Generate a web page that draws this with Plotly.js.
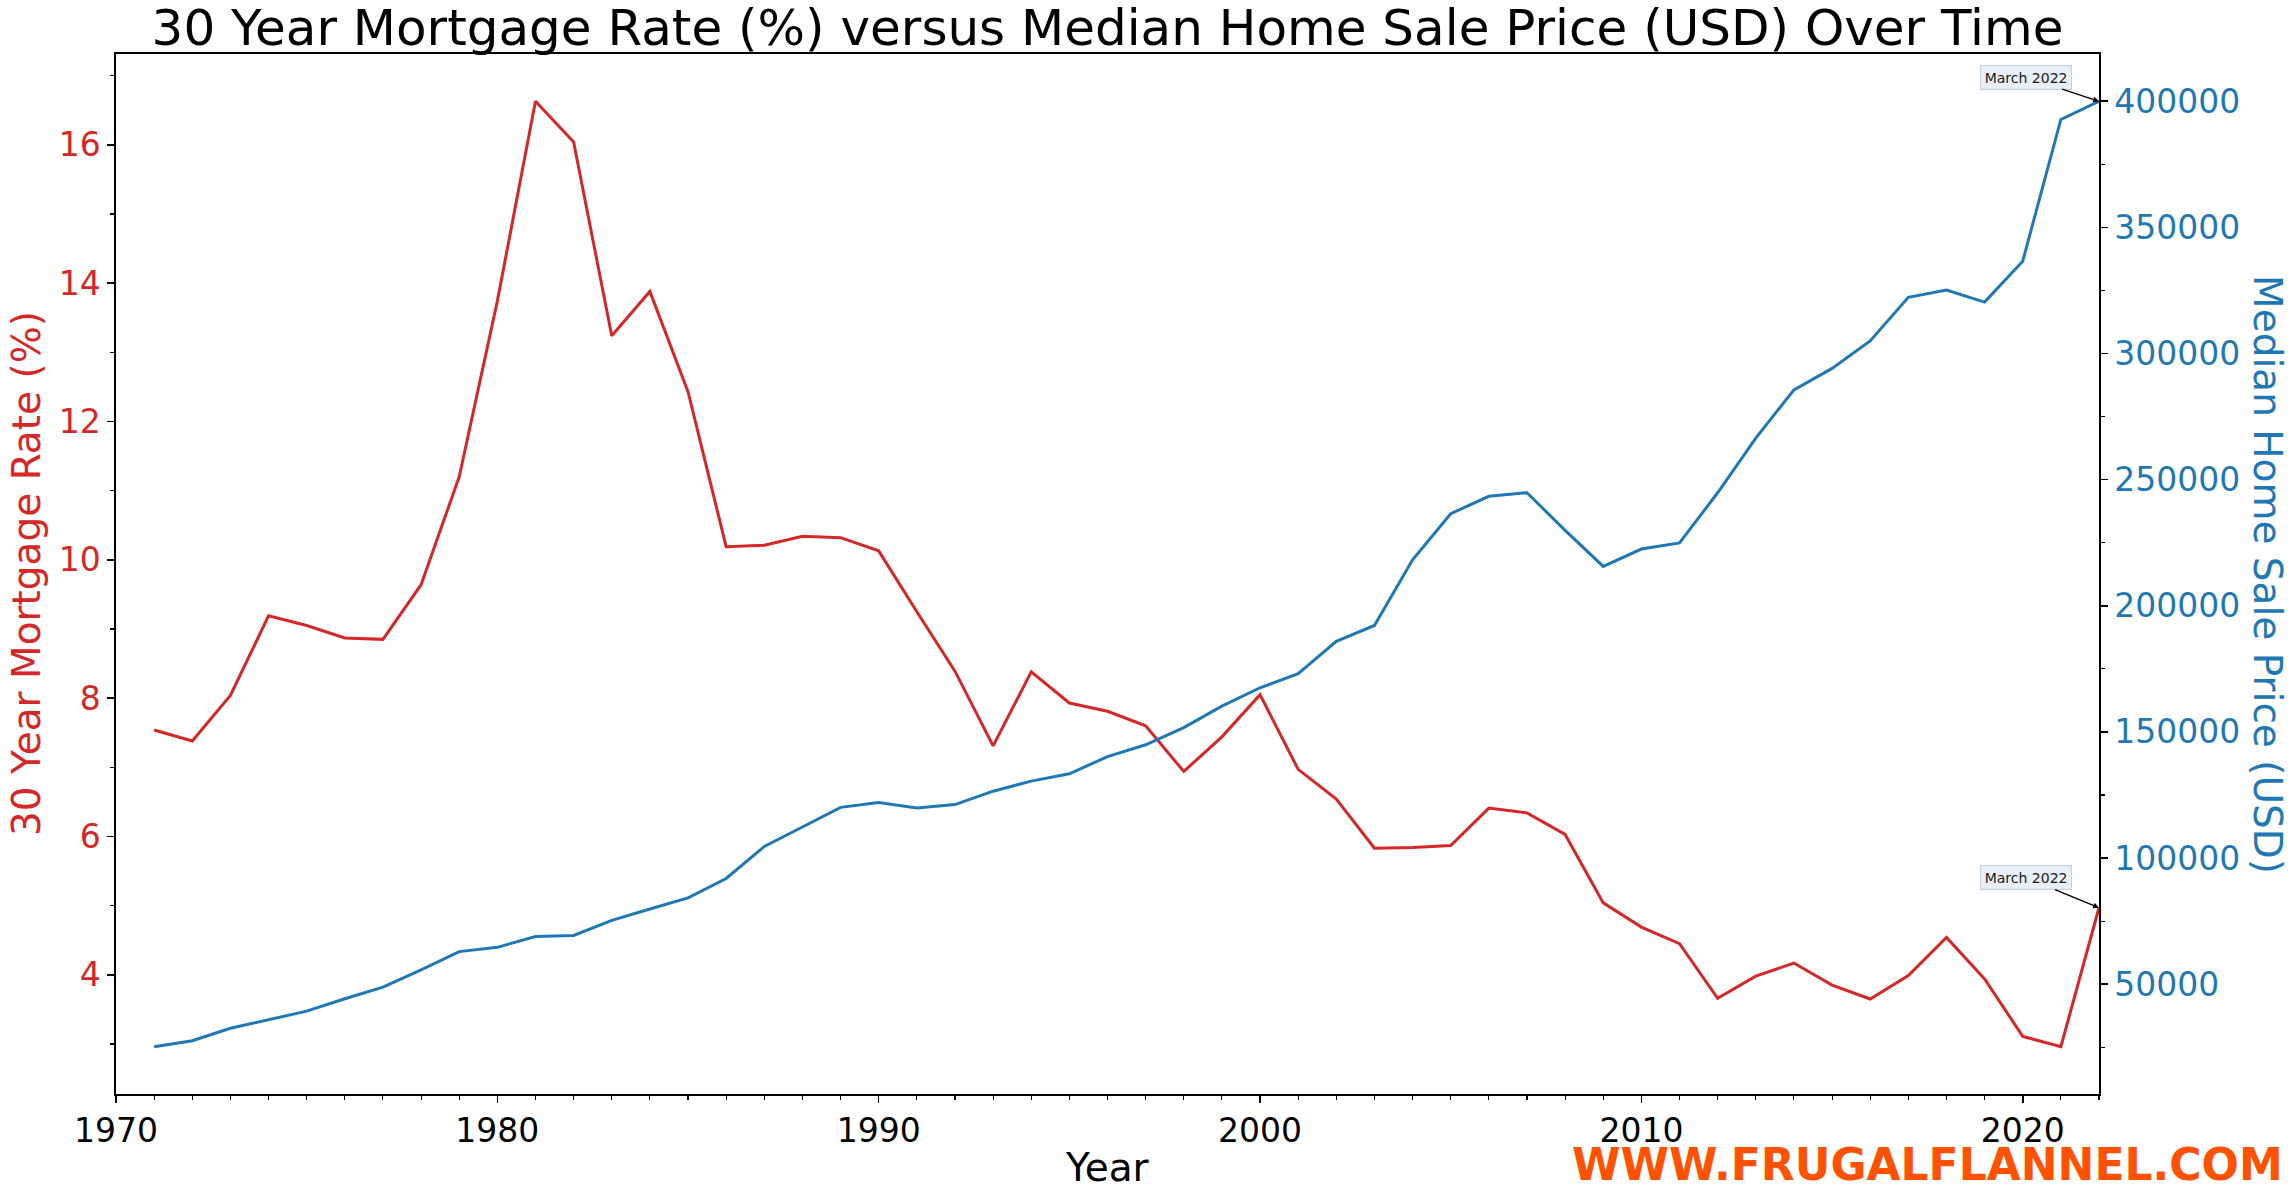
<!DOCTYPE html>
<html>
<head>
<meta charset="utf-8">
<script src="https://cdn.plot.ly/plotly-3.0.1.min.js"></script>
<style>
  html, body { margin: 0; padding: 0; background: #ffffff; }
  #chart { width: 2294px; height: 1190px; }
</style>
</head>
<body>
<div id="chart"></div>
<script>
// ---- data ----
const years = [1971,1972,1973,1974,1975,1976,1977,1978,1979,1980,1981,1982,1983,1984,1985,1986,1987,1988,1989,1990,1991,1992,1993,1994,1995,1996,1997,1998,1999,2000,2001,2002,2003,2004,2005,2006,2007,2008,2009,2010,2011,2012,2013,2014,2015,2016,2017,2018,2019,2020,2021,2022];
const mortgageRate = [7.54,7.38,8.04,9.19,9.05,8.87,8.85,9.64,11.20,13.74,16.63,16.04,13.24,13.88,12.43,10.19,10.21,10.34,10.32,10.13,9.25,8.39,7.31,8.38,7.93,7.81,7.60,6.94,7.44,8.05,6.97,6.54,5.83,5.84,5.87,6.41,6.34,6.03,5.04,4.69,4.45,3.66,3.98,4.17,3.85,3.65,3.99,4.54,3.94,3.11,2.96,4.97];
const medianPrice = [25200,27600,32500,35900,39300,44200,48800,55700,62900,64600,68900,69300,75300,79800,84200,91900,104600,112300,120100,122000,119800,121200,126500,130500,133400,140200,144900,151700,160200,167500,173100,185900,192200,218200,236500,243400,244800,229900,215600,222500,224900,244800,266500,285600,294100,305000,322300,325200,320400,336600,392800,400000];
const annotationLabel = "March 2022";
const titleText = "30 Year Mortgage Rate (%) versus Median Home Sale Price (USD) Over Time";
const xTitle = "Year";
const yTitle = "30 Year Mortgage Rate (%)";
const y2Title = "Median Home Sale Price (USD)";
const watermark = "WWW.FRUGALFLANNEL.COM";

// ---- style ----
const RED = "#d62728", BLUE = "#1f77b4";
const FONT = "DejaVu Sans";
const W = 2294, H = 1190;
const M = {l: 116, r: 195, t: 54, b: 96};
const pw = W - M.l - M.r, ph = H - M.t - M.b;
const px2x = p => (p - M.l) / pw;
const py2y = p => 1 - (p - M.t) / ph;

const last = years.length - 1;

const traces = [
  {x: years, y: mortgageRate, type: "scatter", mode: "lines", yaxis: "y",
   line: {color: RED, width: 3}, hoverinfo: "x+y", showlegend: false},
  {x: years, y: medianPrice, type: "scatter", mode: "lines", yaxis: "y2",
   line: {color: BLUE, width: 3}, hoverinfo: "x+y", showlegend: false}
];

const axisCommon = {
  showgrid: false, zeroline: false, showline: true, linecolor: "black", linewidth: 1.6,
  ticks: "outside", ticklen: 7, tickwidth: 1.6, tickcolor: "black"
};

const layout = {
  width: W, height: H,
  margin: M,
  paper_bgcolor: "#ffffff", plot_bgcolor: "#ffffff",
  font: {family: FONT, color: "black"},
  showlegend: false,
  title: {text: titleText, font: {family: FONT, size: 50, color: "black"},
          x: 0.5, xref: "paper", xanchor: "center", y: 1 - 27.5/H, yref: "container", yanchor: "middle"},
  xaxis: Object.assign({}, axisCommon, {
    range: [1970, 2022], tickmode: "linear", tick0: 1970, dtick: 10,
    mirror: true,
    tickfont: {family: FONT, size: 33, color: "black"},
    minor: {dtick: 1, ticks: "outside", ticklen: 4, tickwidth: 1.1, tickcolor: "black"}
  }),
  yaxis: Object.assign({}, axisCommon, {
    range: [2.2765, 17.3135], tickmode: "linear", tick0: 0, dtick: 2,
    tickfont: {family: FONT, size: 33, color: RED},
    minor: {dtick: 1, ticks: "outside", ticklen: 4, tickwidth: 1.1, tickcolor: "black"}
  }),
  yaxis2: Object.assign({}, axisCommon, {
    range: [6460, 418740], tickmode: "linear", tick0: 0, dtick: 50000,
    overlaying: "y", side: "right", tickformat: "d",
    tickfont: {family: FONT, size: 33, color: BLUE},
    minor: {dtick: 25000, ticks: "outside", ticklen: 4, tickwidth: 1.1, tickcolor: "black"}
  }),
  annotations: [
    {text: xTitle, xref: "paper", yref: "paper", x: px2x(1107), y: py2y(1167),
     xanchor: "center", yanchor: "middle", showarrow: false,
     font: {family: FONT, size: 39, color: "black"}},
    {text: yTitle, xref: "paper", yref: "paper", x: px2x(26), y: 0.5,
     xanchor: "center", yanchor: "middle", showarrow: false, textangle: -90,
     font: {family: FONT, size: 39, color: RED}},
    {text: y2Title, xref: "paper", yref: "paper", x: px2x(2268), y: 0.5,
     xanchor: "center", yanchor: "middle", showarrow: false, textangle: 90,
     font: {family: FONT, size: 39, color: BLUE}},
    {text: watermark, xref: "paper", yref: "paper", x: px2x(2285), y: py2y(1164),
     xanchor: "right", yanchor: "middle", showarrow: false,
     font: {family: FONT, size: 44, color: "#ff5100", weight: "bold"}},
    {text: annotationLabel, x: years[last], y: medianPrice[last], xref: "x", yref: "y2",
     showarrow: true, ax: -73, ay: -24, arrowhead: 2, arrowsize: 0.9, arrowwidth: 1.3, arrowcolor: "black",
     bgcolor: "#e9eff6", bordercolor: "#c9d1da", borderwidth: 1.2, borderpad: 3.5,
     font: {family: FONT, size: 14, color: "#1a1a1a"}},
    {text: annotationLabel, x: years[last], y: mortgageRate[last], xref: "x", yref: "y",
     showarrow: true, ax: -73, ay: -30, arrowhead: 2, arrowsize: 0.9, arrowwidth: 1.3, arrowcolor: "black",
     bgcolor: "#e9eff6", bordercolor: "#c9d1da", borderwidth: 1.2, borderpad: 3.5,
     font: {family: FONT, size: 14, color: "#1a1a1a"}}
  ]
};

Plotly.newPlot("chart", traces, layout, {displayModeBar: false, staticPlot: true});
</script>
</body>
</html>
